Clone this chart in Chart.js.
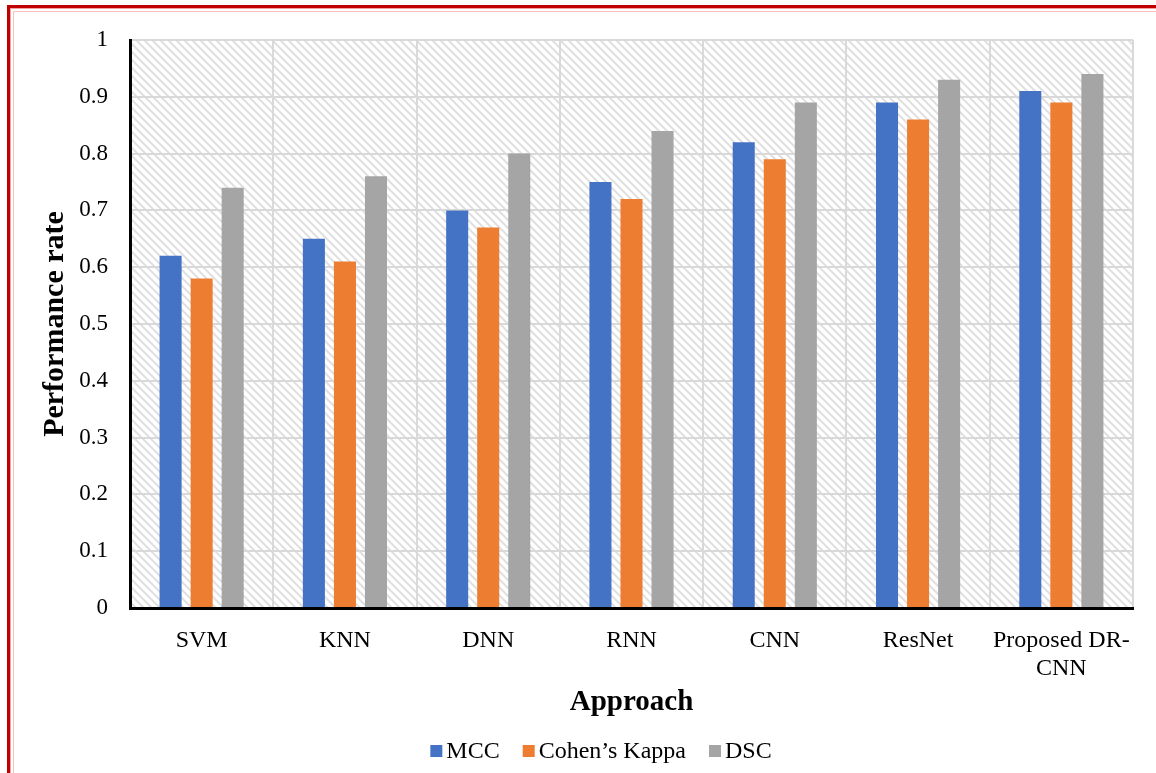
<!DOCTYPE html>
<html>
<head>
<meta charset="utf-8">
<script src="https://cdn.jsdelivr.net/npm/chart.js@4.4.1/dist/chart.umd.min.js"></script>
<style>
  html, body { margin: 0; padding: 0; background: #fff; overflow: hidden; }
  #frame {
    position: absolute; left: 7px; top: 5px; width: 1300px; height: 900px;
    border: 3px solid #c00000; box-shadow: inset 0 0 0 1px #f2a0a0, inset 0 0 0 3px #fff, inset 0 0 0 4px #f4c0c0;
    box-sizing: border-box;
  }
  #wrap { position: absolute; left: 0; top: 0; width: 1156px; height: 773px; }
</style>
</head>
<body>
<div id="frame"></div>
<div id="wrap"><canvas id="c" width="1156" height="773"></canvas></div>
<script>
const approaches = ['SVM', 'KNN', 'DNN', 'RNN', 'CNN', 'ResNet', ['Proposed DR-', 'CNN']];
const mcc   = [0.62, 0.65, 0.70, 0.75, 0.82, 0.89, 0.91];
const kappa = [0.58, 0.61, 0.67, 0.72, 0.79, 0.86, 0.89];
const dsc   = [0.74, 0.76, 0.80, 0.84, 0.89, 0.93, 0.94];
const yTicks = [0, 0.1, 0.2, 0.3, 0.4, 0.5, 0.6, 0.7, 0.8, 0.9, 1];

const serif = "'Liberation Serif', 'Times New Roman', serif";

// diagonal hatch used as the plot-area fill
function hatchPattern(ctx) {
  const s = 8;
  const p = document.createElement('canvas');
  p.width = s; p.height = s;
  const g = p.getContext('2d');
  g.fillStyle = '#ffffff';
  g.fillRect(0, 0, s, s);
  g.strokeStyle = '#e0e0e0';
  g.lineWidth = 2;
  g.beginPath();
  g.moveTo(-1, -1); g.lineTo(s + 1, s + 1);
  g.moveTo(-1, s - 1); g.lineTo(1, s + 1);
  g.moveTo(s - 1, -1); g.lineTo(s + 1, 1);
  g.stroke();
  return ctx.createPattern(p, 'repeat');
}

const plotBackground = {
  id: 'plotBackground',
  beforeDraw(chart) {
    const { ctx, chartArea: a } = chart;
    ctx.save();
    ctx.fillStyle = hatchPattern(ctx);
    ctx.fillRect(a.left, a.top, a.right - a.left, a.bottom - a.top);
    ctx.restore();
  }
};

// compact legend row below the axis title: small square, tight gap, text
const bottomLegend = {
  id: 'bottomLegend',
  afterDraw(chart, args, opts) {
    const { ctx } = chart;
    const box = 12, gap = 4, spacing = 23;
    ctx.save();
    ctx.font = `24px ${serif}`;
    ctx.textBaseline = 'middle';
    ctx.textAlign = 'left';
    const items = chart.data.datasets.map(d => ({ text: d.label, color: d.backgroundColor, w: ctx.measureText(d.label).width }));
    const total = items.reduce((s, it) => s + box + gap + it.w, 0) + spacing * (items.length - 1);
    let x = opts.centerX - total / 2;
    const y = opts.centerY;
    items.forEach(it => {
      ctx.fillStyle = it.color;
      ctx.fillRect(x, y - box / 2, box, box);
      ctx.fillStyle = '#000';
      ctx.fillText(it.text, x + box + gap, y + 1);
      x += box + gap + it.w + spacing;
    });
    ctx.restore();
  }
};

new Chart(document.getElementById('c'), {
  type: 'bar',
  data: {
    labels: approaches,
    datasets: [
      { label: 'MCC', data: mcc, backgroundColor: '#4472C4' },
      { label: 'Cohen\u2019s Kappa', data: kappa, backgroundColor: '#ED7D31' },
      { label: 'DSC', data: dsc, backgroundColor: '#A5A5A5' }
    ]
  },
  options: {
    responsive: false,
    animation: false,
    devicePixelRatio: 1,
    categoryPercentage: 0.65,
    barPercentage: 0.71,
    layout: { padding: { left: 0, right: 23, top: 40, bottom: 55 } },
    plugins: {
      tooltip: { enabled: false },
      legend: { display: false },
      bottomLegend: { centerX: 601, centerY: 751 }
    },
    scales: {
      x: {
        afterFit(scale) { scale.height = 110; },
        grid: { offset: true, color: '#d9d9d9', lineWidth: 2, drawTicks: false },
        border: { display: true, color: '#000', width: 3 },
        ticks: { color: '#000', font: { family: serif, size: 24, lineHeight: 1.2 }, padding: 18, maxRotation: 0, autoSkip: false },
        title: { display: true, text: 'Approach', color: '#000', font: { family: serif, size: 29, weight: 'bold', lineHeight: 1 }, padding: { top: 0, bottom: 1 } }
      },
      y: {
        min: 0, max: 1,
        afterBuildTicks(scale) { scale.ticks = yTicks.map(v => ({ value: v })); },
        afterFit(scale) { scale.width = 130; },
        grid: { color: '#d9d9d9', lineWidth: 2, drawTicks: false },
        border: { display: true, color: '#000', width: 3 },
        ticks: { color: '#000', font: { family: serif, size: 23 }, padding: 22, callback: v => String(Math.round(v * 10) / 10) },
        title: { display: true, text: 'Performance rate', color: '#000', font: { family: serif, size: 30, weight: 'bold', lineHeight: 1.2 }, padding: { top: 37, bottom: 0 } }
      }
    }
  },
  plugins: [plotBackground, bottomLegend]
});
</script>
</body>
</html>
